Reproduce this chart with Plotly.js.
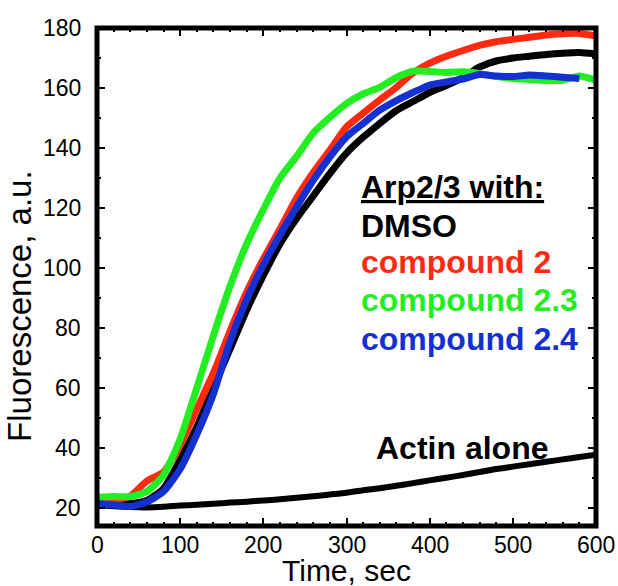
<!DOCTYPE html>
<html>
<head>
<meta charset="utf-8">
<script src="https://cdn.plot.ly/plotly-3.0.1.min.js"></script>
<style>html,body{margin:0;padding:0;background:#fff;}#chart{width:618px;height:586px;}</style>
</head>
<body>
<div id="chart"></div>
<script>
// Time (sec)
var time = [0,20,40,60,80,100,120,140,160,180,200,220,240,260,280,300,320,340,360,380,400,420,440,460,480,500,520,540,560,580,600];
// Fluorescence (a.u.)
var dmso = [21.7,21.5,21.5,22.5,26.5,36,47,60,73,86,97.5,108,116.5,124,131.5,138.3,143.6,148.2,152.5,155.5,158.5,160.8,163.5,167,169,170,170.6,171.2,171.6,171.8,171.3];
var compound2 = [22.7,22.6,24,29,32,41,53,65,79,92,103,113,123.3,131.8,139.3,147,151.6,156,160.2,165,168.3,170.6,172.5,174.2,175.4,176.2,176.9,177.7,178.1,178.2,177.4];
var compound23 = [23.5,23.8,23.8,25.5,31,43,60,77.5,94,108,119.5,130,137.2,145,150.2,154.8,158,160.2,163.5,165.6,165.5,165.2,165.4,164.8,163.8,163.2,162.8,162.5,162.6,164,162.6];
var time24 = [0,20,40,60,80,100,120,140,160,180,200,220,240,260,280,300,320,340,360,380,400,420,440,460,480,500,520,540,560,580];
var compound24 = [21.5,21,20.5,22,25.5,33,44.5,58,75.5,89.5,101,111,120.3,129.2,137,143.7,148.2,152.6,155.8,158.5,161,162,163,164.5,164,163.8,164.3,164,163.6,163.2];
var actinAlone = [21,20.6,20.3,20.2,20.4,20.8,21.1,21.4,21.8,22.1,22.5,22.9,23.4,23.9,24.5,25.1,25.9,26.6,27.4,28.3,29.2,30.1,31,32,33,33.8,34.6,35.4,36.2,37,37.8];

var xTicks = [0,100,200,300,400,500,600];
var yTicks = [20,40,60,80,100,120,140,160,180];
var xTitle = "Time, sec";
var yTitle = "Fluorescence, a.u.";
var legendLines = ["<u>Arp2/3 with:</u>","DMSO","compound 2","compound 2.3","compound 2.4"];
var colors = {black:"#000000", red:"#ff2a10", green:"#22ee22", blue:"#1530d0"};

function tr(x, y, c, w) {
  return {x:x, y:y, type:"scatter", mode:"lines", line:{color:c, width:w, shape:"spline", smoothing:0.6}, hoverinfo:"skip"};
}
var data = [
  tr(time, actinAlone, colors.black, 6),
  tr(time, dmso, colors.black, 7),
  tr(time, compound2, colors.red, 7),
  tr(time, compound23, colors.green, 7),
  tr(time24, compound24, colors.blue, 7)
];

var fontFam = "Liberation Sans, Arial, Helvetica, sans-serif";
var tickFont = {family:fontFam, size:23, color:"#000"};
var legendColors = [colors.black, colors.black, colors.red, colors.green, colors.blue];
var legendY = [127, 114, 102, 89.5, 76.5];
var annotations = legendLines.map(function(t,i){
  return {text:"<b>"+t+"</b>", x:315, y:legendY[i], xref:"x", yref:"y", xanchor:"left", yanchor:"middle", showarrow:false, font:{family:fontFam, size:32, color:legendColors[i]}};
});
annotations.push({text:"<b>Actin alone</b>", x:333, y:40, xref:"x", yref:"y", xanchor:"left", yanchor:"middle", showarrow:false, font:{family:fontFam, size:32, color:colors.black}});
// tick labels
xTicks.forEach(function(v){
  annotations.push({text:String(v), x:v, xref:"x", y:0, yref:"paper", xanchor:"center", yanchor:"middle", yshift:-19, borderpad:0, showarrow:false, font:tickFont});
});
yTicks.forEach(function(v){
  annotations.push({text:String(v), y:v, yref:"y", x:0, xref:"paper", xanchor:"right", yanchor:"middle", xshift:-15, borderpad:0, showarrow:false, font:tickFont});
});
// axis titles
annotations.push({text:xTitle, x:0.5, xref:"paper", y:0, yref:"paper", xanchor:"center", yanchor:"middle", yshift:-44, borderpad:0, showarrow:false, font:{family:fontFam, size:30, color:"#000"}});
annotations.push({text:yTitle, textangle:-90, x:0, xref:"paper", xshift:-77, y:0.44, yref:"paper", xanchor:"center", yanchor:"middle", showarrow:false, font:{family:fontFam, size:33, color:"#000"}});

var axisCommon = {
  showgrid:false, zeroline:false, showline:true, linecolor:"#000", linewidth:1, mirror:"ticks",
  ticks:"inside", ticklen:8, tickwidth:2, tickcolor:"#000", showticklabels:false
};
var layout = {
  width:618, height:586,
  margin:{l:97, r:22, t:28, b:60, pad:0},
  paper_bgcolor:"#fff", plot_bgcolor:"#fff",
  showlegend:false,
  xaxis:Object.assign({}, axisCommon, {
    range:[0,600], tickvals:xTicks,
    minor:{dtick:20, tick0:0, ticks:"inside", ticklen:4, tickwidth:2, tickcolor:"#000"}
  }),
  yaxis:Object.assign({}, axisCommon, {
    range:[14,180], tickvals:yTicks,
    minor:{dtick:10, tick0:0, ticks:"inside", ticklen:4, tickwidth:2, tickcolor:"#000"}
  }),
  shapes:[{type:"rect", xref:"paper", yref:"paper", x0:0, x1:1, y0:0, y1:1, line:{color:"#000", width:5}, fillcolor:"rgba(0,0,0,0)", layer:"above"}],
  annotations:annotations
};
Plotly.newPlot("chart", data, layout, {displayModeBar:false, staticPlot:true});
</script>
</body>
</html>
